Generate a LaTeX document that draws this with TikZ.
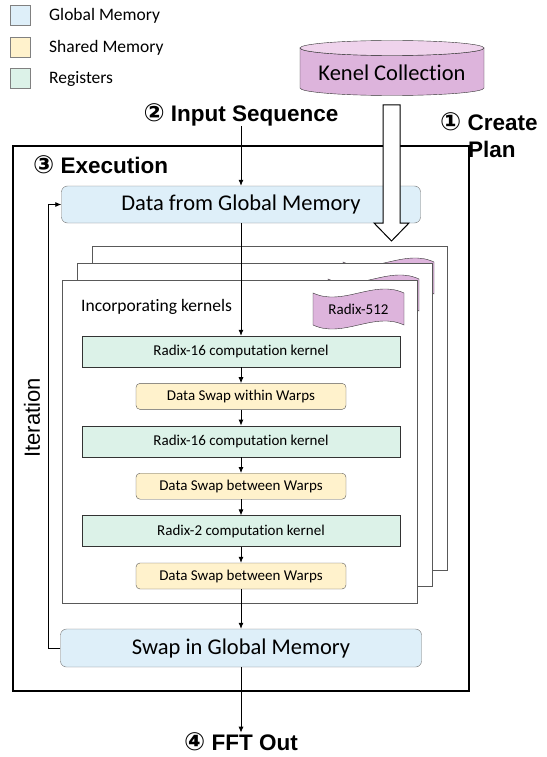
\documentclass[tikz,border=0pt]{standalone}
\usepackage{fontspec}
\setmainfont{Carlito}[Ligatures=NoCommon]
\newfontfamily\headfont{Liberation Sans}
\newfontfamily\circfont{DejaVu Sans}
\usepackage{xcolor}
\usetikzlibrary{arrows.meta,positioning,calc}

\definecolor{gmfill}{HTML}{DEEFF9}
\definecolor{shfill}{HTML}{FFF2CC}
\definecolor{regfill}{HTML}{DCF2E8}
\definecolor{kfill}{HTML}{DDB4DC}
\definecolor{ktop}{HTML}{EFD3EC}

\newcommand{\stepnum}[1]{{\circfont\fontsize{25}{27}\selectfont #1}}

\begin{document}
\begin{tikzpicture}[x=1pt, y=-1pt,
  gmem/.style={draw=black!55, fill=gmfill, rounded corners=6pt, minimum width=359pt, minimum height=37pt, inner sep=0pt, font=\fontsize{22.5}{27}\selectfont},
  reg/.style={draw=black!80, fill=regfill, minimum width=318pt, minimum height=31pt, inner sep=0pt, font=\fontsize{15}{18}\selectfont},
  shm/.style={draw=black!65, fill=shfill, rounded corners=4pt, minimum width=210pt, minimum height=26pt, inner sep=0pt, font=\fontsize{15}{18}\selectfont},
  legbox/.style={draw=black!50, minimum size=20pt, inner sep=0pt, fill=#1},
  legtext/.style={anchor=west, inner sep=0pt, font=\fontsize{17.5}{21}\selectfont},
  headtxt/.style={inner sep=0pt, font=\headfont\bfseries\fontsize{22.5}{27}\selectfont},
  pagebox/.style={draw=black!65, fill=white},
  tagshape/.style={draw=black!80, fill=kfill},
  arr/.style={-{Latex[length=6pt,width=5pt]}, line width=0.8pt},
  node distance=16pt,
]
  \useasboundingbox (0,0) rectangle (546,757);

  % Legend
  \node[legbox=gmfill]  (lg1) at (20.5,15.5) {};
  \node[legbox=shfill]  (lg2) at (20.5,47) {};
  \node[legbox=regfill] (lg3) at (20.5,78.5) {};
  \node[legtext] (lt1) at (49,16) {Global Memory};
  \node[legtext] (lt2) at (49,47.5) {Shared Memory};
  \node[legtext] (lt3) at (49,79) {Registers};

  % Kernel collection
  \filldraw[fill=kfill, draw=black!80] (300,48) -- (300,88)
    arc[start angle=180, end angle=0, x radius=92, y radius=7.5] -- (484,48)
    arc[start angle=0, end angle=180, x radius=92, y radius=7.5] -- cycle;
  \filldraw[fill=ktop, draw=black!80] (392,48) ellipse[x radius=92, y radius=7.5];
  \node[font=\fontsize{22.5}{27}\selectfont] (kc) at (392,73) {Kenel Collection};

  % Headings
  \node[headtxt] (inp) at (241,115) {\stepnum{②} Input Sequence};
  \node[headtxt, align=left, anchor=north west] (plan) at (440,112) {\stepnum{①} Create\\\hspace*{28pt}Plan};

  % Execution
  \draw[line width=2pt] (13,146) rectangle (469,691);
  \node[headtxt, anchor=west] (exe) at (33,165) {\stepnum{③} Execution};
  \node[gmem] (data) at (241,204.5) {Data from Global Memory};

  \filldraw[fill=white, draw=black, line width=1pt] (383,105) -- (400,105) -- (400,223) -- (409,223)
    -- (391.5,241) -- (374,223) -- (383,223) -- cycle;

  % Pages
  \draw[pagebox] (92,246) rectangle (447,570);
  \begin{scope}[shift={(343,262)}]
    \draw[tagshape] (0,0) .. controls (30,14) and (61,-14) .. (91,0) -- (91,32)
      .. controls (61,18) and (30,46) .. (0,32) -- cycle;
  \end{scope}
  \draw[pagebox] (77,263) rectangle (432,586);
  \begin{scope}[shift={(328,279)}]
    \draw[tagshape] (0,0) .. controls (30,14) and (61,-14) .. (91,0) -- (91,32)
      .. controls (61,18) and (30,46) .. (0,32) -- cycle;
  \end{scope}
  \draw[pagebox] (62,280) rectangle (417,603);
  \begin{scope}[shift={(313,293)}]
    \draw[tagshape] (0,0) .. controls (30,14) and (61,-14) .. (91,0) -- (91,32)
      .. controls (61,18) and (30,46) .. (0,32) -- cycle;
  \end{scope}
  \node[font=\fontsize{15}{18}\selectfont] (rdx) at (358.5,309) {Radix-512};
  \node[legtext] (inc) at (81,307) {Incorporating kernels};

  % Kernel steps
  \node[reg] (r1) at (241,351.5) {Radix-16 computation kernel};
  \node[shm, below=of r1] (s1) {Data Swap within Warps};
  \node[reg, below=of s1] (r2) {Radix-16 computation kernel};
  \node[shm, below=of r2] (s2) {Data Swap between Warps};
  \node[reg, below=of s2] (r3) {Radix-2 computation kernel};
  \node[shm, below=of r3] (s3) {Data Swap between Warps};

  \node[gmem, minimum width=361pt, minimum height=38pt] (gswap) at (241,648) {Swap in Global Memory};
  \node[font=\headfont\fontsize{22}{26}\selectfont, rotate=90] (iter) at (32,418) {Iteration};
  \node[headtxt] (out) at (241,742) {\stepnum{④} FFT Out};

  % Arrows
  \draw[arr] (inp) -- (data);
  \draw[arr] (data) -- (r1);
  \draw[arr] (r1) -- (s1);
  \draw[arr] (s1) -- (r2);
  \draw[arr] (r2) -- (s2);
  \draw[arr] (s2) -- (r3);
  \draw[arr] (r3) -- (s3);
  \draw[arr] (s3) -- (gswap);
  \draw[arr] (gswap) -- (out);
  \draw[arr] (gswap.west) -- ++(-12,0) |- (data.west);
\end{tikzpicture}
\end{document}
